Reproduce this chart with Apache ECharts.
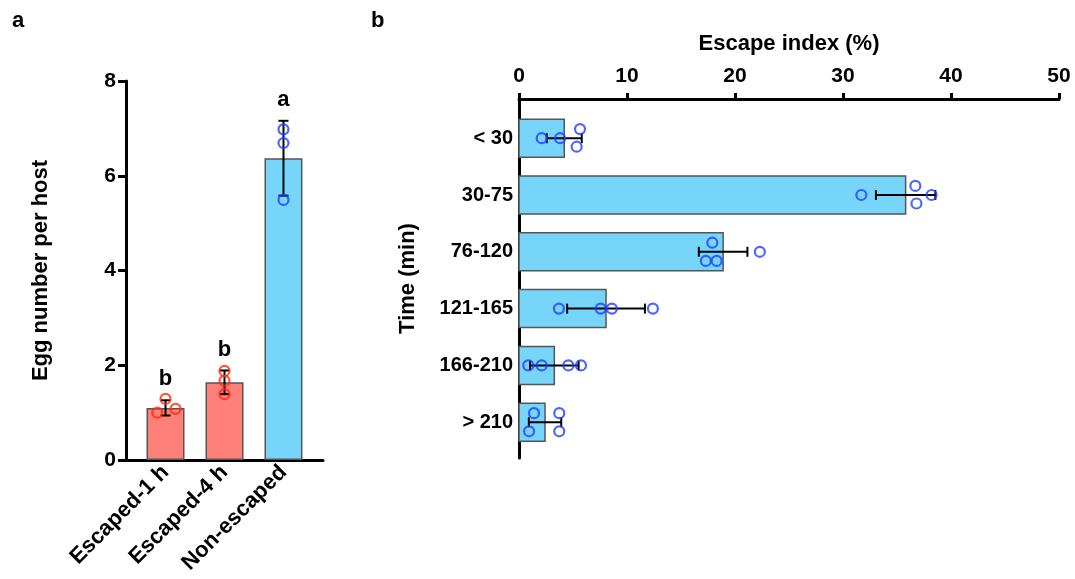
<!DOCTYPE html>
<html>
<head>
<meta charset="utf-8">
<script src="https://cdn.jsdelivr.net/npm/echarts@6/dist/echarts.min.js"></script>
<style>
  html, body { margin: 0; padding: 0; background: #fff; }
  #chart { width: 1075px; height: 579px; }
</style>
</head>
<body>
<div id="chart"></div>
<script>
// panel a: eggs per host
const groupNames = ['Escaped-1 h', 'Escaped-4 h', 'Non-escaped']
const eggMean = [1.10, 1.64, 6.37]
const eggSd = [0.16, 0.25, 0.79]
const eggPoints = [[1.00, 1.29, 1.08], [1.88, 1.67, 1.39], [6.98, 6.69, 5.49]]
const eggJitter = [[-0.14, 0, 0.17], [0, 0, 0], [0, 0, 0]]
const eggLetters = ['b', 'b', 'a']
const eggTicks = [0, 2, 4, 6, 8]

// panel b: escape index by time bin
const timeBins = ['< 30', '30-75', '76-120', '121-165', '166-210', '> 210']
const escapeMean = [4.19, 35.8, 18.9, 8.06, 3.27, 2.41]
const escapeSd = [1.62, 2.75, 2.25, 3.6, 2.25, 1.5]
const escapePoints = [
  [2.10, 3.80, 5.65, 5.34],
  [31.7, 36.7, 36.8, 38.2],
  [17.9, 17.3, 18.3, 22.3],
  [3.7, 7.56, 8.6, 12.4],
  [0.86, 2.10, 4.57, 5.74],
  [1.39, 0.93, 3.73, 3.73]
]
const escapeJitter = [
  [0, 0, -0.16, 0.15],
  [0, -0.16, 0.15, 0],
  [-0.16, 0.16, 0.16, 0],
  [0, 0, 0, 0],
  [0, 0, 0, 0],
  [-0.16, 0.16, -0.16, 0.16]
]
const escapeTicks = [0, 10, 20, 30, 40, 50]

const FONT = 'Liberation Sans, Arial, sans-serif'
const RED_BAR = '#FF7F79'
const BLUE_BAR = '#77D5F9'
const RED_PT = '#FF2A10'
const BLUE_PT = '#1F40FF'
const barColors = [RED_BAR, RED_BAR, BLUE_BAR]
const ptColors = [RED_PT, RED_PT, BLUE_PT]

const chart = echarts.init(document.getElementById('chart'))

const axisLine = { show: true, onZero: false, lineStyle: { color: '#000', width: 3 } }
const labelStyle = { color: '#000', fontFamily: FONT, fontWeight: 'bold', fontSize: 21 }
const nameStyle = { color: '#000', fontFamily: FONT, fontWeight: 'bold', fontSize: 22 }

const eggScatter = []
eggPoints.forEach((arr, i) => {
  arr.forEach((v, k) => {
    eggScatter.push({ value: [i + eggJitter[i][k], v], itemStyle: { borderColor: ptColors[i] } })
  })
})
const escScatter = []
escapePoints.forEach((arr, i) => {
  arr.forEach((v, k) => {
    escScatter.push([v, i + escapeJitter[i][k]])
  })
})

const option = {
  animation: false,
  backgroundColor: '#fff',
  graphic: [
    { type: 'text', left: 12, top: 10, style: { text: 'a', font: 'bold 22px ' + FONT, fill: '#000' } },
    { type: 'text', left: 371, top: 10, style: { text: 'b', font: 'bold 22px ' + FONT, fill: '#000' } }
  ],
  grid: [
    { left: 126, top: 81, width: 197, height: 379 },
    { left: 519, top: 99, width: 540, height: 359 }
  ],
  xAxis: [
    {
      gridIndex: 0,
      type: 'value',
      min: -0.67,
      max: 2.67,
      axisLine: axisLine,
      axisTick: { show: false },
      splitLine: { show: false },
      axisLabel: Object.assign({
        customValues: [0, 1, 2],
        formatter: v => groupNames[Math.round(v)],
        rotate: 45,
        margin: 9
      }, labelStyle, { fontSize: 22 })
    },
    {
      gridIndex: 1,
      type: 'value',
      position: 'top',
      min: 0,
      max: 50,
      interval: 10,
      name: 'Escape index (%)',
      nameLocation: 'middle',
      nameGap: 44,
      nameTextStyle: nameStyle,
      axisLine: axisLine,
      axisTick: { show: true, length: 6, lineStyle: { color: '#000', width: 3 } },
      splitLine: { show: false },
      axisLabel: Object.assign({ margin: 12, customValues: escapeTicks }, labelStyle)
    }
  ],
  yAxis: [
    {
      gridIndex: 0,
      type: 'value',
      min: 0,
      max: 8,
      interval: 2,
      name: 'Egg number per host',
      nameLocation: 'middle',
      nameGap: 74,
      nameRotate: 90,
      nameTextStyle: nameStyle,
      axisLine: axisLine,
      axisTick: { show: true, length: 8, lineStyle: { color: '#000', width: 3 } },
      splitLine: { show: false },
      axisLabel: Object.assign({ margin: 10, customValues: eggTicks }, labelStyle)
    },
    {
      gridIndex: 1,
      type: 'value',
      inverse: true,
      min: -0.69,
      max: 5.63,
      name: 'Time (min)',
      nameLocation: 'middle',
      nameGap: 100,
      nameRotate: 90,
      nameTextStyle: nameStyle,
      axisLine: axisLine,
      axisTick: { show: false },
      splitLine: { show: false },
      axisLabel: Object.assign({
        customValues: [0, 1, 2, 3, 4, 5],
        formatter: v => timeBins[Math.round(v)],
        margin: 6
      }, labelStyle, { fontSize: 20 })
    }
  ],
  series: [
    {
      type: 'bar',
      xAxisIndex: 0,
      yAxisIndex: 0,
      barWidth: 38,
      data: eggMean.map((v, i) => ({
        value: [i, v],
        itemStyle: { color: barColors[i], borderColor: '#555', borderWidth: 1.5 }
      })),
      z: 2
    },
    {
      // error bars + significance letters for panel a
      type: 'custom',
      xAxisIndex: 0,
      yAxisIndex: 0,
      data: eggMean.map((v, i) => [i, v, eggSd[i]]),
      encode: { x: 0, y: 1 },
      renderItem: (params, api) => {
        const i = api.value(0)
        const m = api.value(1)
        const s = api.value(2)
        const hi = api.coord([i, m + s])
        const lo = api.coord([i, m - s])
        const w = 5
        const ls = { stroke: '#000', lineWidth: 2 }
        return {
          type: 'group',
          children: [
            { type: 'line', shape: { x1: hi[0], y1: hi[1], x2: lo[0], y2: lo[1] }, style: ls },
            { type: 'line', shape: { x1: hi[0] - w, y1: hi[1], x2: hi[0] + w, y2: hi[1] }, style: ls },
            { type: 'line', shape: { x1: lo[0] - w, y1: lo[1], x2: lo[0] + w, y2: lo[1] }, style: ls },
            {
              type: 'text',
              x: hi[0],
              y: hi[1] - 21,
              style: {
                text: eggLetters[params.dataIndex],
                font: 'bold 22px ' + FONT,
                fill: '#000',
                align: 'center',
                verticalAlign: 'middle'
              }
            }
          ]
        }
      },
      z: 3
    },
    {
      type: 'scatter',
      xAxisIndex: 0,
      yAxisIndex: 0,
      symbol: 'circle',
      symbolSize: 10,
      itemStyle: { color: 'rgba(0,0,0,0)', borderWidth: 2.2 },
      data: eggScatter,
      z: 4
    },
    {
      // horizontal bars for panel b
      type: 'custom',
      xAxisIndex: 1,
      yAxisIndex: 1,
      data: escapeMean.map((v, i) => [v, i]),
      encode: { x: 0, y: 1 },
      renderItem: (params, api) => {
        const v = api.value(0)
        const i = api.value(1)
        const p0 = api.coord([0, i])
        const p1 = api.coord([v, i])
        const h = 38
        return {
          type: 'rect',
          shape: { x: p0[0], y: p0[1] - h / 2, width: p1[0] - p0[0], height: h },
          style: { fill: BLUE_BAR, stroke: '#555', lineWidth: 1.5 }
        }
      },
      z: 2
    },
    {
      type: 'custom',
      xAxisIndex: 1,
      yAxisIndex: 1,
      data: escapeMean.map((v, i) => [v, i, escapeSd[i]]),
      encode: { x: 0, y: 1 },
      renderItem: (params, api) => {
        const m = api.value(0)
        const i = api.value(1)
        const s = api.value(2)
        const lo = api.coord([m - s, i])
        const hi = api.coord([m + s, i])
        const w = 5
        const ls = { stroke: '#000', lineWidth: 2 }
        return {
          type: 'group',
          children: [
            { type: 'line', shape: { x1: lo[0], y1: lo[1], x2: hi[0], y2: hi[1] }, style: ls },
            { type: 'line', shape: { x1: lo[0], y1: lo[1] - w, x2: lo[0], y2: lo[1] + w }, style: ls },
            { type: 'line', shape: { x1: hi[0], y1: hi[1] - w, x2: hi[0], y2: hi[1] + w }, style: ls }
          ]
        }
      },
      z: 3
    },
    {
      type: 'scatter',
      xAxisIndex: 1,
      yAxisIndex: 1,
      symbol: 'circle',
      symbolSize: 10,
      itemStyle: { color: 'rgba(0,0,0,0)', borderColor: BLUE_PT, borderWidth: 2.2 },
      data: escScatter,
      z: 4
    }
  ]
}

chart.setOption(option)
</script>
</body>
</html>
